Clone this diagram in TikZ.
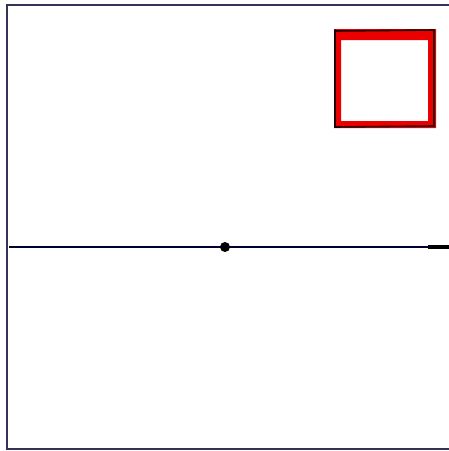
\documentclass[tikz,border=0pt]{standalone}
\begin{document}
\begin{tikzpicture}[x=1pt,y=-1pt,
  frame/.style={draw=black!75!blue!60!gray, line width=1.6pt},
  axis/.style={draw=black!80!blue, line width=1.8pt},
  redband/.style={fill=red!92!black, even odd rule},
  boxedge/.style={draw=black!85!red, line width=1.6pt, line cap=round}]
\useasboundingbox (0,0) rectangle (449,451);
\draw[frame] (7,450) -- (7,5) -- (452,5);
\draw[frame] (7,449) -- (452,449);
\coordinate (L) at (9,247);
\coordinate (R) at (449,247);
\draw[axis] (L) -- (R);
\draw[black, line width=3.2pt] (428,247) -- (R);
\node[circle, fill=black, inner sep=0pt, minimum size=10pt] (dot) at (225,247) {};
\coordinate (o1) at (334,29);
\coordinate (o2) at (436,128);
\path[redband] (o1) rectangle (o2) (341,40) rectangle (428,121);
\draw[boxedge] (335,31) -- (434,30);
\draw[boxedge] (335,30) -- (335,127) -- (434,126) -- (434,30);
\end{tikzpicture}
\end{document}
